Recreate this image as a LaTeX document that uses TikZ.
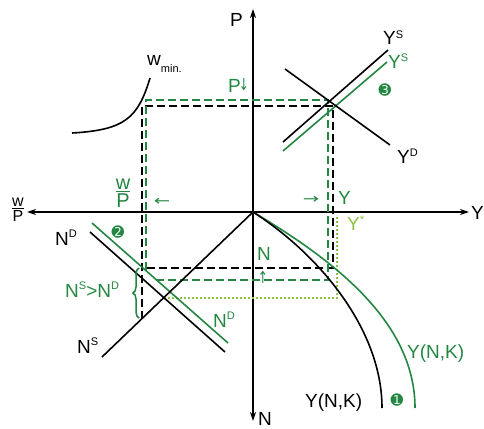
\documentclass[tikz,border=0pt]{standalone}
\usepackage{fontspec}
\setmainfont{Liberation Sans}
\newfontfamily\djv{DejaVu Sans}
\usetikzlibrary{arrows.meta,decorations.pathreplacing}
\definecolor{gr}{RGB}{35,135,65}
\definecolor{lg}{RGB}{140,195,70}
\newcommand{\sps}[2][0.32em]{\raisebox{#1}{\fontsize{11}{11}\selectfont #2}}
\newcommand{\wfrac}{\vbox{\offinterlineskip\halign{\hfil##\hfil\cr w\cr\noalign{\kern1.5pt\hrule height 1.4pt\kern1.5pt}P\cr}}}
\begin{document}
\begin{tikzpicture}[x=1pt,y=-1pt,
  ax/.style={line width=1.5pt,{Stealth[length=9pt,width=6pt]}-{Stealth[length=9pt,width=6pt]}},
  ln/.style={line width=1.6pt},
  gln/.style={ln,draw=gr},
  bd/.style={line width=2pt,dash pattern=on 8pt off 4pt},
  gd/.style={bd,draw=gr},
  dt/.style={draw=lg,line width=1.6pt,dash pattern=on 1.6pt off 2.4pt},
  lbl/.style={font=\fontsize{19}{19}\selectfont,inner sep=0pt,anchor=base west},
  glbl/.style={lbl,text=gr},
  num/.style={inner sep=0pt,text=gr,font=\djv\fontsize{15}{15}\selectfont},
  sym/.style={inner sep=0pt,font=\djv\fontsize{15}{15}\selectfont}]
\useasboundingbox (0,0) rectangle (484,428);
% axes
\coordinate (O) at (253,212);
\coordinate (xl) at (27,212);
\coordinate (xr) at (469,212);
\coordinate (yt) at (253,9);
\coordinate (yb) at (253,421);
\draw[ax] (xl) -- (xr);
\draw[ax] (yt) -- (yb);
% dotted light green
\coordinate (d1) at (164,298);
\coordinate (d2) at (337,298);
\coordinate (d3) at (337,215);
\draw[dt] (d1) -- (d2) -- (d3);
% dashed black
\coordinate (b1) at (142,319);
\coordinate (b2) at (142,106);
\coordinate (b3) at (333,106);
\coordinate (b4) at (333,268);
\coordinate (b5) at (142,268);
\draw[bd] (b1) -- (b2) -- (b3) -- (b4) -- (b5);
% dashed green
\coordinate (g1) at (146,270);
\coordinate (g2) at (146,100);
\coordinate (g3) at (328,100);
\coordinate (g4) at (328,280);
\coordinate (g5) at (156,280);
\draw[gd] (g1) -- (g2) -- (g3) -- (g4) -- (g5);
% quadrant 1
\coordinate (ys1) at (283,142); \coordinate (ys2) at (388,50);
\coordinate (gys1) at (283,151); \coordinate (gys2) at (387,62);
\coordinate (yd1) at (285,69); \coordinate (yd2) at (390,145);
\draw[gln] (gys1) -- (gys2);
\draw[ln] (ys1) -- (ys2);
\draw[ln] (yd1) -- (yd2);
% quadrant 2: w_min curve
\coordinate (w1) at (72,133); \coordinate (w2) at (150,78);
\draw[ln] (w1) .. controls (125,130) and (138,118) .. (w2);
% quadrant 3
\coordinate (nd1) at (90,232); \coordinate (nd2) at (225,352);
\coordinate (gnd1) at (92,223); \coordinate (gnd2) at (228,343);
\coordinate (ns) at (102,357);
\draw[gln] (gnd1) -- (gnd2);
\draw[ln] (nd1) -- (nd2);
\draw[ln] (O) -- (ns);
% quadrant 4: production functions
\coordinate (gy) at (415,408);
\coordinate (by) at (382,408);
\draw[gln] (O) .. controls (330,258) and (415,320) .. (gy);
\draw[ln] (O) .. controls (320,255) and (382,330) .. (by);
% brace
\coordinate (br1) at (139,318); \coordinate (br2) at (139,268);
\draw[gr,line width=1.5pt,decorate,decoration={brace,amplitude=6pt}] (br1) -- (br2);
% axis labels
\node[lbl] (lP) at (230,27) {P};
\node[lbl] (lN) at (258,425) {N};
\node[lbl] (lY) at (471,219) {Y};
\node[inner sep=0pt,font=\fontsize{16}{16}\selectfont] (lwp) at (18,210) {\wfrac};
% labels quadrant 1
\node[lbl] (lys) at (383,45) {Y\sps{S}};
\node[glbl] (lgys) at (388,68) {Y\sps{S}};
\node[lbl] (lyd) at (397,163) {Y\sps{D}};
\node[num] (n3) at (385,90) {➌};
\node[glbl] (lgP) at (228,92) {P};
\node[sym,text=gr] (adown) at (244,85) {\scalebox{0.8}[1.1]{↓}};
\node[glbl] (lgY) at (338,204) {Y};
\node[sym,text=gr] (aright) at (311,200) {\scalebox{1.3}[0.9]{→}};
\node[lbl,text=lg] (lys2) at (347,230) {Y\sps{*}};
% labels quadrant 2
\node[lbl] (lw) at (147,65) {w\raisebox{-8pt}{\fontsize{11}{11}\selectfont min.}};
\node[inner sep=0pt,text=gr,font=\fontsize{20}{20}\selectfont] (lgwp) at (123,193) {\wfrac};
\node[sym,text=gr] (aleft) at (162,202) {\scalebox{1.3}[0.9]{←}};
% labels quadrant 3
\node[lbl] (lnd) at (55,245) {N\sps[0.42em]{D}};
\node[lbl] (lns) at (77,353) {N\sps[0.42em]{S}};
\node[glbl] (lgnd) at (213,327) {N\sps[0.42em]{D}};
\node[glbl] (lgap) at (65,297) {N\sps[0.42em]{S}>N\sps[0.42em]{D}};
\node[num] (n2) at (118,232) {➋};
% labels quadrant 4
\node[glbl] (lgN) at (257,260) {N};
\node[sym,text=gr] (aup) at (263,277) {\scalebox{0.8}[1.1]{↑}};
\node[lbl] (lynk) at (305,407) {Y(N,K)};
\node[glbl] (lgynk) at (407,358) {Y(N,K)};
\node[num] (n1) at (397,400) {➊};
\end{tikzpicture}
\end{document}
